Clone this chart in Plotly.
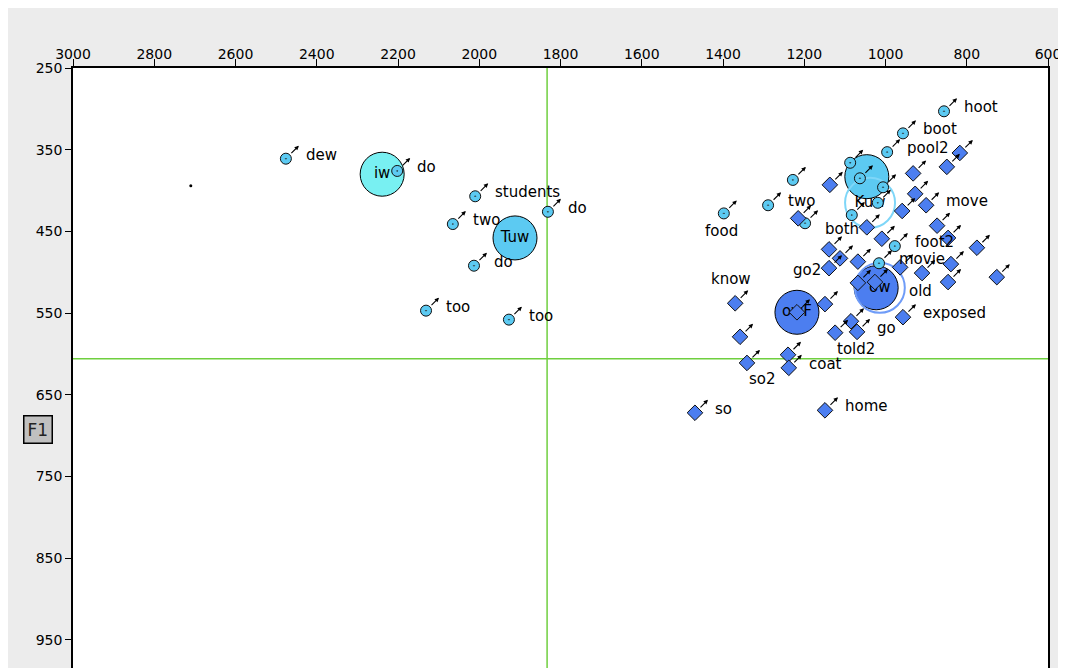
import plotly.graph_objects as go

# ---- data (F2, F1 in Hz) ----
uw_f2 = [2476, 2202, 2010, 1831, 2065, 2013, 2131, 1927, 856, 957, 996, 1398, 1289,
         1228, 1198, 1087, 1063, 1006, 1019, 1083, 977, 1016]
uw_f1 = [361, 376, 407, 426, 441, 492, 547, 558, 303, 330, 353, 428, 418,
         387, 440, 366, 385, 396, 415, 430, 468, 489]
uw_words = ["dew", "do", "students", "do", "two", "do", "too", "too", "hoot", "boot", "pool2",
            "food", "two", "", "", "", "", "", "", "", "foot2", "movie"]
uw_lpos = ["r"] * 11 + ["b"] + ["r"] * 10

ow_f2 = [1137, 932, 849, 817, 927, 900, 959, 1046, 873, 1215, 1009, 846, 775, 1139, 1112,
         1068, 1139, 964, 910, 839, 846, 726, 1068, 1026, 1149, 957, 1085, 1070, 1124,
         1370, 1358, 1341, 1240, 1238, 1469, 1149, 1218]
ow_f1 = [393, 379, 371, 354, 404, 418, 425, 445, 443, 434, 459, 458, 470, 472, 483,
         487, 495, 494, 501, 490, 512, 506, 513, 512, 539, 555, 560, 573, 574,
         538, 579, 611, 601, 617, 672, 669, 549]
ow_words = ["", "", "", "", "", "move", "", "both", "", "", "", "", "", "", "",
            "", "go2", "", "old", "", "", "", "", "", "", "exposed", "", "go", "told2",
            "know", "", "so2", "", "coat", "so", "home", ""]
ow_lpos = ["r", "r", "r", "r", "r", "r", "r", "l", "r", "r", "r", "r", "r", "r", "r",
           "r", "l", "r", "b", "r", "r", "r", "r", "r", "r", "r", "r", "r", "br",
           "t", "r", "br", "r", "r", "r", "r", "r"]

mean_labels = ["iw", "Tuw", "", "owF", ""]
mean_f2 = [2239, 1912, 1046, 1218, 1023]
mean_f1 = [380, 458, 383, 549, 519]
mean_colors = ["#78f0f2", "#5ccaf2", "#5ccaf2", "#4c7ef0", "#4c7ef0"]

hollow_labels = ["Kuw", "ow"]
hollow_f2 = [1038, 1014]
hollow_f1 = [415, 519]
hollow_colors = ["#7ed6f8", "#6f9cf8"]

stray_f2 = [2710]
stray_f1 = [394]

F2_mean_line = 1833
F1_mean_line = 606

FONT = "DejaVu Sans"

fig = go.Figure()

# mean circles
fig.add_trace(go.Scatter(
    x=mean_f2, y=mean_f1, mode="markers+text", text=mean_labels,
    textposition="middle center", textfont=dict(family=FONT, size=15, color="black"),
    marker=dict(size=44, color=mean_colors, line=dict(color="black", width=1)),
    hoverinfo="skip", showlegend=False))
fig.add_trace(go.Scatter(
    x=hollow_f2, y=hollow_f1, mode="markers+text", text=hollow_labels,
    textposition="middle center", textfont=dict(family=FONT, size=15, color="black"),
    marker=dict(size=50, color="rgba(0,0,0,0)", line=dict(color=hollow_colors, width=2)),
    hoverinfo="skip", showlegend=False))

# tokens
fig.add_trace(go.Scatter(
    x=uw_f2, y=uw_f1, mode="markers",
    marker=dict(symbol="circle-dot", size=11, color="#5ccaf2",
                line=dict(color="#111", width=1)),
    hoverinfo="skip", showlegend=False))
fig.add_trace(go.Scatter(
    x=ow_f2, y=ow_f1, mode="markers",
    marker=dict(symbol="diamond", size=12, color="#4c7ef0",
                line=dict(color="#111", width=1)),
    hoverinfo="skip", showlegend=False))
fig.add_trace(go.Scatter(
    x=stray_f2, y=stray_f1, mode="markers",
    marker=dict(size=3, color="black"), hoverinfo="skip", showlegend=False))

annotations = []
shift = {"r": dict(xanchor="left", xshift=18, yshift=4),
         "l": dict(xanchor="right", xshift=-6, yshift=-2),
         "b": dict(xanchor="center", xshift=-2, yshift=-18),
         "br": dict(xanchor="left", xshift=0, yshift=-16),
         "t": dict(xanchor="center", xshift=-4, yshift=24)}
for xs, ys, ws, ps in [(uw_f2, uw_f1, uw_words, uw_lpos), (ow_f2, ow_f1, ow_words, ow_lpos)]:
    for x, y, w, p in zip(xs, ys, ws, ps):
        annotations.append(dict(x=x, y=y, xref="x", yref="y", text="", showarrow=True,
                                xshift=13, yshift=13, ax=-9, ay=9, arrowhead=2,
                                arrowsize=0.8, arrowwidth=1.1, arrowcolor="black"))
        if w:
            annotations.append(dict(x=x, y=y, xref="x", yref="y", text=w, showarrow=False,
                                    yanchor="middle",
                                    font=dict(family=FONT, size=15, color="black"), **shift[p]))

annotations.append(dict(xref="paper", yref="paper", x=-0.0359, y=0.397, text="F1",
                        xanchor="center", yanchor="middle",
                        showarrow=False, bgcolor="#c0c0c0", bordercolor="black",
                        borderwidth=1.5, borderpad=3,
                        font=dict(family=FONT, size=17, color="#222")))

fig.update_layout(
    width=1058, height=660,
    margin=dict(l=65, r=18, t=60, b=0, pad=0),
    paper_bgcolor="#ececec", plot_bgcolor="white",
    annotations=annotations,
    shapes=[
        dict(type="line", xref="x", yref="paper", x0=F2_mean_line, x1=F2_mean_line,
             y0=0, y1=1, line=dict(color="#6fcf3f", width=1.5), layer="below"),
        dict(type="line", xref="paper", yref="y", x0=0, x1=1, y0=F1_mean_line,
             y1=F1_mean_line, line=dict(color="#6fcf3f", width=1.5), layer="below"),
    ],
    xaxis=dict(side="top", range=[3000, 600], tick0=600, dtick=200, showgrid=False,
               zeroline=False, showline=True, linecolor="black", linewidth=1.5,
               ticks="outside", ticklen=7, tickcolor="black", tickwidth=1.2, mirror=False,
               ticklabelstandoff=-5,
               tickfont=dict(family=FONT, size=14, color="black")),
    yaxis=dict(range=[984.4, 250], tick0=250, dtick=100, showgrid=False, zeroline=False,
               showline=True, linecolor="black", linewidth=1.5, mirror=True,
               ticks="outside", ticklen=6, tickcolor="black", tickwidth=1.2,
               tickfont=dict(family=FONT, size=14, color="black")),
)

fig.write_html("out.html")
